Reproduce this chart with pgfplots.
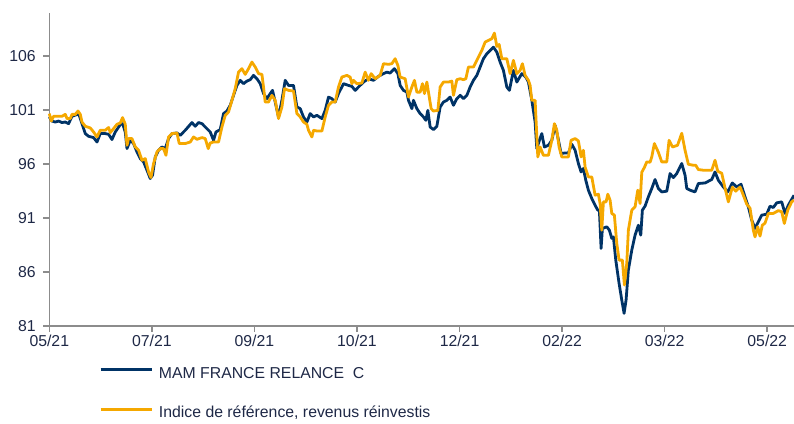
\documentclass[border=0pt]{standalone}
\usepackage{fontspec}
\setmainfont{Liberation Sans}
\usepackage{pgfplots}
\pgfplotsset{compat=1.18}
\definecolor{navy}{RGB}{0,51,102}
\definecolor{gold}{RGB}{245,168,0}
\definecolor{axgrey}{RGB}{140,140,140}
\definecolor{txt}{RGB}{30,40,70}
\begin{document}
\begin{tikzpicture}[x=1bp,y=1bp,font=\fontsize{15.8bp}{19bp}\selectfont]
\path[use as bounding box] (0,0) rectangle (794,423);
\begin{axis}[
  at={(49.3bp,97bp)}, anchor=south west,
  scale only axis, width=744.7bp, height=313.3bp,
  xmin=0, xmax=745, ymin=81, ymax=110,
  axis lines=left,
  axis line style={-, axgrey, line width=1.5bp},
  xtick={0,102.6,205.2,307.8,410.4,513,615.6,718.2},
  xticklabels={05/21,07/21,09/21,10/21,12/21,02/22,03/22,05/22},
  ytick={81,86,91,96,101,106},
  tick align=outside, major tick length=6bp,
  tick style={axgrey, line width=1.5bp},
  tick label style={text=txt, font=\fontsize{15.8bp}{19bp}\selectfont},
  yticklabel style={xshift=-4bp},
  /pgf/number format/assume math mode=true,
  clip=false,
  legend style={at={(0.0667,-0.1308)}, anchor=north west, draw=none, fill=none,
    inner sep=0pt, row sep=26.5bp, nodes={inner sep=0pt, text=txt},
    font=\fontsize{15.8bp}{19bp}\selectfont},
  legend cell align=left,
  /tikz/every odd column/.append style={column sep=6bp},
  legend image code/.code={\draw[#1, line width=2.8bp] (0bp,0.36em) -- (51bp,0.36em);},
]
\addplot[navy, line width=2.8bp, line join=round] coordinates {
(0,100.35) (2.7,99.97) (6,99.88) (9.3,99.97) (12.7,99.83) (16,99.88) (19.3,99.73) (22.7,100.41) (27.7,100.57) (29.3,100.66) (32.7,99.73) (36,98.81) (39.3,98.56) (44.3,98.44) (47.7,98.03) (51,98.81) (56,98.81) (59.3,98.75) (62.7,98.26) (66,98.96) (71,99.64) (73.3,99.73) (76,98.96) (77.7,97.42) (81,98.19) (84.3,97.89) (87.7,97.11) (91,96.50) (94.3,96.19) (97.7,95.42) (101,94.65) (103.3,94.96) (106,96.65) (109.3,97.27) (112.7,97.57) (116,97.42) (119.3,98.35) (122.7,98.81) (127.7,98.87) (131,98.65) (136,99.12) (142.7,99.83) (146,99.49) (149.3,99.83) (152.7,99.73) (156,99.42) (161,98.96) (164.3,98.19) (166.7,98.96) (171,99.18) (174.3,100.66) (177.7,100.90) (181,101.43) (184.3,102.35) (187.7,103.27) (191,103.74) (194.3,103.43) (197.7,103.67) (201,103.80) (204.3,104.20) (207.7,103.89) (211,103.43) (214.3,102.51) (217.7,102.04) (221,102.51) (223.3,102.81) (226,101.73) (229.3,100.35) (232.7,101.89) (236,103.74) (239.3,103.27) (244.3,103.27) (247.7,101.27) (251,101.12) (254.3,100.35) (257.7,99.88) (261,100.66) (264.3,100.35) (267.7,100.50) (272.7,100.20) (276,100.96) (279.3,102.19) (282.7,102.04) (286,101.73) (289.3,102.51) (294.3,103.43) (299.3,103.27) (302.7,103.18) (306,102.81) (309.3,103.12) (314.3,103.58) (319.3,103.89) (324.3,103.74) (329.3,104.11) (334.3,104.36) (337.7,104.50) (341,104.41) (345.3,104.82) (348.7,104.36) (351,103.27) (354.3,102.81) (357.7,102.65) (359.3,101.89) (362.7,101.12) (364.3,101.89) (367.7,101.12) (371,100.66) (374.3,100.35) (376.7,100.04) (378.7,100.96) (381,99.42) (384.3,99.18) (387.7,99.49) (391,101.27) (394.3,101.73) (397.7,101.89) (401,102.19) (404.3,101.43) (407.7,102.04) (411,102.35) (414.3,102.04) (417.7,102.35) (421,103.12) (424.3,103.74) (427.7,104.20) (431,104.97) (434.3,105.74) (437.7,106.20) (441,106.51) (444.3,106.81) (447.7,106.35) (451,105.43) (454.3,104.66) (457.7,103.12) (460.3,102.81) (464.3,104.66) (467.7,103.58) (472.7,104.36) (476.7,104.04) (479.3,103.58) (482.7,101.89) (486,99.88) (487.7,97.42) (490.3,98.19) (492.7,98.81) (495.3,97.57) (499.3,97.73) (502.7,98.19) (506,99.58) (508.7,98.50) (512,96.96) (516,97.02) (519.3,97.02) (522.7,97.82) (526,97.27) (529.3,96.04) (532,95.26) (534.3,95.58) (536.7,94.49) (539.3,93.57) (542.7,92.80) (546,92.18) (548.7,91.72) (550.3,91.72) (552,88.18) (553.3,90.03) (557.7,90.18) (560.3,89.87) (562.7,89.11) (564.3,89.25) (566.7,87.10) (570,84.95) (572.7,83.40) (575,82.17) (577,83.40) (579.3,86.18) (582.7,88.02) (586,89.41) (589.3,90.33) (591.7,89.41) (593.3,91.72) (596,92.10) (599.3,92.95) (602.7,93.73) (606,94.56) (609.3,93.73) (612.7,93.41) (617.7,93.48) (621,95.11) (624.3,94.74) (627.7,95.11) (632.7,96.04) (636,94.96) (637.7,93.73) (641,93.57) (646,93.41) (649.3,94.19) (656,94.24) (662.7,94.56) (666,95.26) (669.3,94.49) (674.3,93.87) (678.7,93.41) (683.3,94.24) (687.7,93.87) (692,94.12) (696,92.95) (699.3,92.03) (702.7,90.80) (706,90.03) (709.3,90.64) (712.7,91.26) (717.7,91.35) (721,92.09) (724.3,91.97) (727.7,92.40) (732.7,92.49) (736,91.42) (739.3,92.18) (745,93.1)
};
\addlegendentry{MAM FRANCE RELANCE \ C}
\addplot[gold, line width=2.8bp, line join=round] coordinates {
(0,100.66) (2,99.97) (4.3,100.41) (9.3,100.41) (12.7,100.41) (16,100.59) (17.7,100.20) (21,100.20) (22.7,100.59) (26,100.59) (28.7,100.90) (31,100.59) (32.7,99.88) (36,99.49) (41,99.33) (44.3,98.96) (47.7,98.50) (51,99.12) (56,99.12) (59.3,99.37) (61,98.90) (64.3,99.27) (67.7,99.67) (71,99.79) (73.3,100.29) (76,99.67) (77.7,97.73) (79.3,98.35) (82.7,98.35) (86,97.57) (89.3,97.27) (92.7,96.34) (96,96.50) (99.3,95.26) (101.7,94.74) (104.3,96.04) (107.7,97.11) (111,97.42) (114.3,97.42) (116.7,96.80) (119.3,98.50) (122.7,98.81) (127.7,98.87) (130,97.89) (136,97.89) (141,98.03) (144.3,98.50) (147.7,98.28) (152.7,98.44) (156,98.35) (159,97.42) (161,97.94) (164.3,98.03) (169.3,98.03) (172.7,99.42) (176,100.50) (179.3,100.81) (182.7,101.89) (186,102.97) (189.3,104.50) (192.7,104.82) (196,104.29) (199.3,104.82) (202.7,105.43) (206,104.97) (209.3,104.36) (212.7,104.29) (214.3,103.12) (216,101.73) (219.3,101.73) (222.7,102.35) (226,101.89) (229.3,100.20) (232.7,101.27) (235.3,102.97) (239.3,102.81) (244.3,102.75) (247.7,100.66) (251,100.35) (254.3,99.88) (257.7,99.67) (259.3,99.12) (262.7,98.50) (264.3,99.12) (267.7,99.05) (272.7,99.05) (276,100.35) (279.3,101.43) (282.7,101.73) (286,101.73) (289.3,103.12) (292.7,104.04) (297.7,104.20) (301,104.04) (302.7,103.43) (304.3,103.74) (307.7,103.43) (312.7,103.49) (316,104.50) (319.3,103.74) (322,104.36) (326,103.89) (331,104.20) (334.3,105.28) (339.3,105.22) (342.7,105.28) (346,105.74) (348.7,105.12) (351,104.04) (356,103.89) (359.3,102.19) (362.7,103.12) (365.3,103.74) (367.7,102.65) (371,102.65) (373.3,103.43) (375.3,102.51) (377.7,103.58) (379.3,102.65) (382,101.12) (384.3,100.90) (388.7,100.96) (391,103.12) (394.3,103.58) (399.3,103.58) (402.7,103.67) (404.3,102.35) (407.7,103.80) (411,103.89) (414.3,103.80) (416.7,103.89) (419.3,104.97) (424.3,104.97) (429.3,105.89) (432.7,106.51) (436,107.28) (439.3,107.43) (442.7,107.59) (445.3,108.11) (447.7,106.88) (450,107.06) (452.7,105.74) (457.7,105.74) (461,104.36) (464.3,105.59) (467.7,104.36) (471,104.66) (473.3,105.28) (476,104.20) (479.3,103.74) (481,103.27) (482.7,101.89) (486,101.89) (488.7,96.65) (491,97.57) (494.3,96.80) (499.3,96.80) (502.7,98.19) (505.3,99.73) (507.7,99.12) (510,97.57) (512.7,96.65) (519.3,96.65) (522,98.19) (526,98.35) (529.3,98.13) (532,96.65) (534.3,97.27) (536,95.72) (539.3,94.80) (542.7,94.80) (546,93.11) (549.3,93.20) (551,92.34) (552.7,89.87) (554.3,92.49) (557,92.49) (558.7,93.20) (561,92.65) (562.7,91.42) (565.3,91.26) (567.7,88.64) (570,87.10) (573.3,87.10) (575.3,84.79) (577.7,86.80) (579.3,89.87) (582.7,91.72) (586,92.03) (588.7,93.57) (591,92.34) (592.7,95.23) (595.3,95.67) (597.7,96.19) (601,96.16) (602.7,96.65) (605.3,97.89) (609.3,97.08) (612.7,96.19) (617.7,96.19) (620,98.19) (623.5,97.57) (628.5,97.73) (632.7,98.84) (636,97.27) (639.3,95.97) (644.3,95.88) (646.7,95.88) (649.3,95.48) (654.3,95.42) (662.7,95.42) (666,96.34) (668.7,95.33) (672.7,95.14) (676,93.76) (679.3,92.49) (683.3,93.85) (686.7,93.48) (691,93.87) (694.3,93.11) (697.7,92.28) (701,91.91) (704.3,89.87) (706,89.25) (708.7,90.18) (711,89.32) (713.3,90.33) (716,90.52) (719.3,91.42) (724.3,91.42) (729.3,91.68) (732.7,91.57) (735.3,90.49) (738.7,91.72) (742.7,92.49) (745,92.65)
};
\addlegendentry{Indice de référence, revenus réinvestis}
\end{axis}
\end{tikzpicture}
\end{document}
